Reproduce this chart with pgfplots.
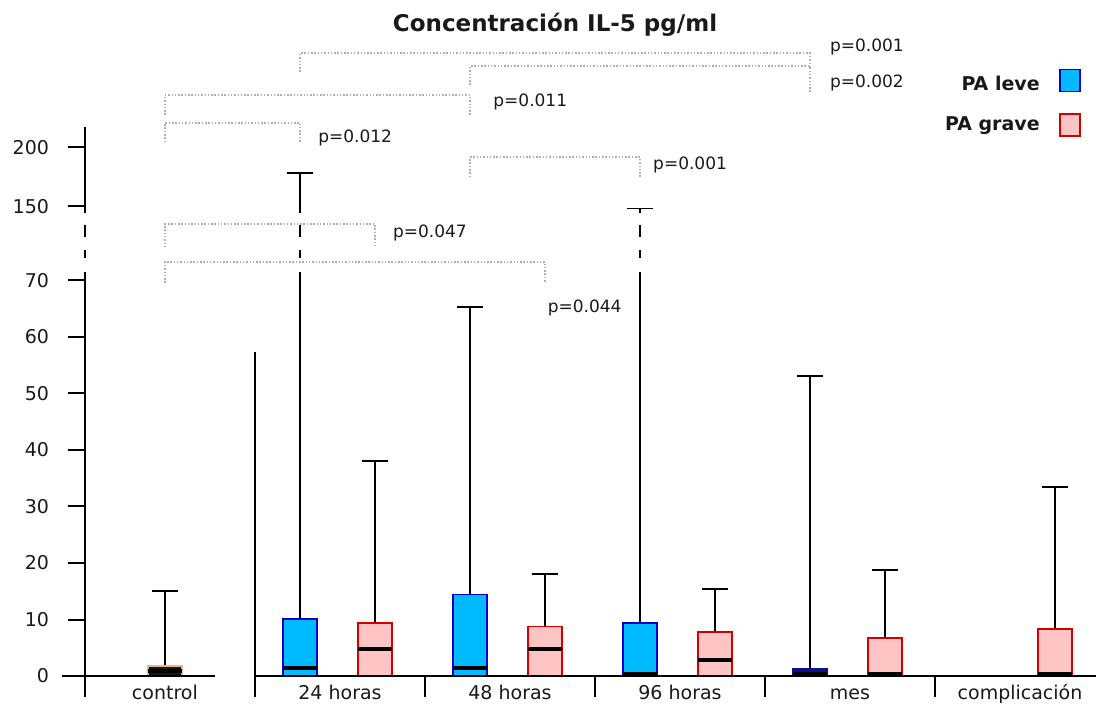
\documentclass[border=0pt]{standalone}
\usepackage{pgfplots}
\pgfplotsset{compat=1.18}
\usepackage{fontspec}
\setmainfont{DejaVu Sans}
\definecolor{leveFill}{RGB}{0,186,255}
\definecolor{leveDraw}{RGB}{0,0,200}
\definecolor{graveFill}{RGB}{255,196,196}
\definecolor{graveDraw}{RGB}{210,0,0}
\definecolor{ctrlFill}{RGB}{30,20,15}
\definecolor{ctrlDraw}{RGB}{225,185,140}
\definecolor{navyblue}{RGB}{15,15,140}
\definecolor{brk}{RGB}{175,175,175}
\definecolor{txt}{RGB}{25,25,25}
% box: position, upper quartile, median, upper whisker, border colour, fill colour (lower quartile = lower whisker = 0)
\newcommand\bxp[6]{%
  \pgfmathsetmacro\bxL{#1-0.1}\pgfmathsetmacro\bxR{#1+0.1}%
  \pgfmathsetmacro\cpL{#1-0.075}\pgfmathsetmacro\cpR{#1+0.075}%
  \edef\bxtmp{%
    \noexpand\addplot[black, line width=0.9pt] coordinates {(#1,#2) (#1,#4)};
    \noexpand\addplot[black, line width=0.9pt] coordinates {(\cpL,#4) (\cpR,#4)};
    \noexpand\addplot[draw=#5, fill=#6, line width=0.8pt] coordinates {(\bxL,0) (\bxR,0) (\bxR,#2) (\bxL,#2)} --cycle;
    \noexpand\addplot[black, line width=2pt] coordinates {(\bxL,#3) (\bxR,#3)};
  }\bxtmp}
\begin{document}
\begin{tikzpicture}
\useasboundingbox (0,0) rectangle (548pt,354.5pt);
\begin{axis}[
  at={(42.5pt,6pt)}, anchor=south west,
  scale only axis, width=505.5pt, height=284.8pt,
  xmin=-0.5, xmax=5.447, ymin=-3.7, ymax=97,
  clip=false,
  axis line style={draw=none},
  y coord trafo/.code={\pgfmathparse{#1>120 ? 83.08+(#1-150)*0.2086 : #1}},
  y coord inv trafo/.code={\pgfmathparse{#1>83 ? 150+(#1-83.08)/0.2086 : #1}},
  ytick={0,10,20,30,40,50,60,70,150,200},
  yticklabels={0,10,20,30,40,50,60,70,150,200},
  xtick={-0.03,1,2,3,4,5},
  xticklabels={control,24 horas,48 horas,96 horas,mes,complicación},
  ytick pos=left, xtick pos=bottom,
  tick align=outside, major tick length=8.5pt,
  ytick style={line width=1pt, black},
  xtick style={draw=none},
  tick label style={font=\fontsize{9.5}{11}\selectfont, text=txt},
  yticklabel style={xshift=-6pt},
  xticklabel style={anchor=base, yshift=7.3pt},
  /pgf/number format/assume math mode=true,
]
% control
\bxp{-0.03}{1.8}{0.9}{15}{ctrlDraw}{ctrlFill}
% PA leve
\bxp{0.765}{10.1}{1.5}{178}{leveDraw}{leveFill}
\bxp{1.765}{14.4}{1.5}{65.2}{leveDraw}{leveFill}
\bxp{2.765}{9.4}{0.3}{148}{leveDraw}{leveFill}
\bxp{3.765}{1.3}{0.4}{53}{navyblue}{navyblue}
% PA grave
\bxp{1.206}{9.4}{4.8}{38}{graveDraw}{graveFill}
\bxp{2.206}{8.8}{4.8}{18}{graveDraw}{graveFill}
\bxp{3.206}{7.8}{2.8}{15.4}{graveDraw}{graveFill}
\bxp{4.206}{6.7}{0.4}{18.7}{graveDraw}{graveFill}
\bxp{5.206}{8.3}{0.4}{33.4}{graveDraw}{graveFill}
% axis break gaps
\fill[white] (axis cs:-0.55,71.4) rectangle (axis cs:5.45,73.9);
\fill[white] (axis cs:-0.55,75.3) rectangle (axis cs:5.45,77.6);
\fill[white] (axis cs:-0.55,79.7) rectangle (axis cs:5.45,81.8);
% axis lines
\draw[line width=1pt] (axis cs:-0.5,-3.7) -- (axis cs:-0.5,71.4)
  (axis cs:-0.5,73.9) -- (axis cs:-0.5,75.3)
  (axis cs:-0.5,77.6) -- (axis cs:-0.5,79.7)
  (axis cs:-0.5,81.8) -- (axis cs:-0.5,97);
\draw[line width=1pt] (axis cs:-0.635,0) -- (axis cs:0.265,0)
  (axis cs:0.5,0) -- (axis cs:5.447,0)
  (axis cs:0.5,-3.7) -- (axis cs:0.5,57.3);
\draw[line width=1pt] (axis cs:1.5,0) -- (axis cs:1.5,-3.7)
  (axis cs:2.5,0) -- (axis cs:2.5,-3.7)
  (axis cs:3.5,0) -- (axis cs:3.5,-3.7)
  (axis cs:4.5,0) -- (axis cs:4.5,-3.7);
% brackets
\begin{scope}[brk, line width=1pt, dash pattern=on 0.75pt off 0.9pt]
\draw (axis cs:0.765,106.8) |- (axis cs:3.765,110.1) -- (axis cs:3.765,107.5);
\draw (axis cs:1.765,104.5) |- (axis cs:3.765,107.8) -- (axis cs:3.765,103.2);
\draw (axis cs:-0.03,99.2) |- (axis cs:1.765,102.7) -- (axis cs:1.765,99.2);
\draw (axis cs:-0.03,94.4) |- (axis cs:0.765,97.8) -- (axis cs:0.765,94.4);
\draw (axis cs:1.765,88.2) |- (axis cs:2.765,91.7) -- (axis cs:2.765,88.2);
\draw (axis cs:-0.03,75.8) |- (axis cs:1.206,79.9) -- (axis cs:1.206,75.8);
\draw (axis cs:-0.03,69.5) |- (axis cs:2.206,73.2) -- (axis cs:2.206,69.5);
\end{scope}
\begin{scope}[every node/.style={anchor=west, inner sep=0pt, text=txt, font=\fontsize{8.5}{10}\selectfont}]
\node at (axis cs:3.88,111.2) {p=0.001};
\node at (axis cs:3.88,104.8) {p=0.002};
\node at (axis cs:1.90,101.5) {p=0.011};
\node at (axis cs:0.87,95.1) {p=0.012};
\node at (axis cs:2.84,90.3) {p=0.001};
\node at (axis cs:1.31,78.3) {p=0.047};
\node at (axis cs:2.22,65.05) {p=0.044};
\end{scope}
% title
\node[text=txt, font=\bfseries\fontsize{11.5}{13}\selectfont] at (axis cs:2.265,115.1) {Concentración IL-5 pg/ml};
% legend
\node[anchor=east, inner sep=0pt, text=txt, font=\bfseries\fontsize{9.5}{11}\selectfont] at (axis cs:5.118,104.8) {PA leve};
\node[anchor=east, inner sep=0pt, text=txt, font=\bfseries\fontsize{9.5}{11}\selectfont] at (axis cs:5.118,97.4) {PA grave};
\node[draw=leveDraw, fill=leveFill, line width=0.8pt, minimum width=10pt, minimum height=11pt, inner sep=0pt] at (axis cs:5.294,105.3) {};
\node[draw=graveDraw, fill=graveFill, line width=0.8pt, minimum width=10pt, minimum height=11pt, inner sep=0pt] at (axis cs:5.294,97.4) {};
\end{axis}
\end{tikzpicture}
\end{document}
